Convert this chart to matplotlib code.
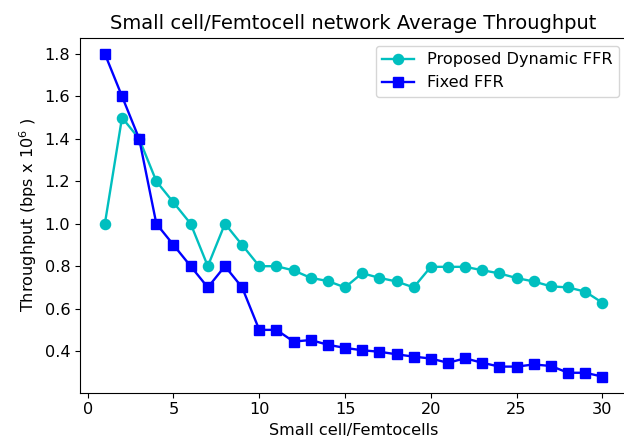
import numpy as np
import matplotlib
matplotlib.use('Agg')
import matplotlib.pyplot as plt
plt.rc('font', family='DejaVu Sans', size=11.6)

cells = list(range(1, 31))
dynamic_ffr = [1.0, 1.5, 1.4, 1.2, 1.1, 1.0, 0.8, 1.0, 0.9, 0.8,
               0.8, 0.78, 0.745, 0.73, 0.70, 0.767, 0.745, 0.728, 0.70, 0.797,
               0.797, 0.797, 0.781, 0.766, 0.744, 0.728, 0.705, 0.70, 0.68, 0.628]
fixed_ffr = [1.8, 1.6, 1.4, 1.0, 0.9, 0.8, 0.7, 0.8, 0.7, 0.5,
             0.5, 0.445, 0.452, 0.43, 0.415, 0.404, 0.397, 0.385, 0.374, 0.365,
             0.345, 0.366, 0.345, 0.327, 0.327, 0.337, 0.33, 0.298, 0.298, 0.28]

fig = plt.figure(figsize=(6.24, 4.44), dpi=100)
ax = fig.add_axes([80/624, 0.1155, 0.877, 0.7995])
ax.plot(cells, dynamic_ffr, 'co-', lw=1.7, ms=7.3, label='Proposed Dynamic FFR')
ax.plot(cells, fixed_ffr, 'bs-', lw=1.7, ms=7.8, label='Fixed FFR')
ax.set_xlabel('Small cell/Femtocells')
ax.set_ylabel('Throughput (bps x $10^6$ )')
ax.set_title('Small cell/Femtocell network Average Throughput', fontsize=14)
ax.legend(loc='upper right')
plt.savefig('out.png', dpi=100)
